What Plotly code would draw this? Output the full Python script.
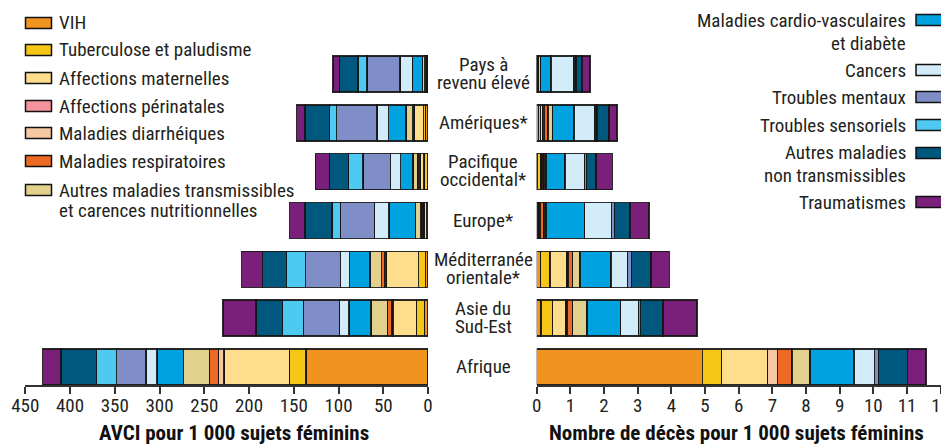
import plotly.graph_objects as go

# Régions, de bas en haut
regions = ["Afrique", "Asie du<br>Sud-Est", "Méditerranée<br>orientale*", "Europe*",
           "Pacifique<br>occidental*", "Amériques*", "Pays à<br>revenu élevé"]
ypos = list(range(len(regions)))

causes = ["VIH", "Tuberculose et paludisme", "Affections maternelles", "Affections périnatales",
          "Maladies diarrhéiques", "Maladies respiratoires",
          "Autres maladies transmissibles<br>et carences nutritionnelles",
          "Maladies cardio-vasculaires<br>et diabète", "Cancers", "Troubles mentaux",
          "Troubles sensoriels", "Autres maladies<br>non transmissibles", "Traumatismes"]
colors = ["#F0931F", "#F6C616", "#FEDD8C", "#F4939B", "#F5C8A2", "#EC6A24", "#E2D18C",
          "#00A2DF", "#D3ECF9", "#7F8EC7", "#4DC9F2", "#00587F", "#7A1F7A"]

# AVCI pour 1 000 sujets féminins (Afrique ... Pays à revenu élevé)
avci_vih = [136.6, 4.1, 2.6, 0.5, 0.5, 3.0, 0.5]
avci_tb = [18.3, 9.0, 7.8, 1.0, 4.0, 1.9, 0.5]
avci_maternelles = [72.9, 25.2, 36.5, 3.0, 4.5, 10.0, 0.5]
avci_perinatales = [0, 0, 0.5, 0.5, 0.5, 0.5, 0.3]
avci_diarrhee = [6.4, 1.9, 1.0, 0.5, 1.0, 0.7, 0.4]
avci_respiratoires = [10.0, 5.2, 3.5, 2.5, 1.5, 1.0, 1.5]
avci_autres_trans = [29.0, 18.5, 13.0, 6.0, 4.5, 7.4, 2.7]
avci_cardio = [29.7, 24.6, 22.8, 29.4, 14.1, 19.4, 11.1]
avci_cancers = [12.3, 10.5, 10.0, 16.4, 11.2, 13.0, 13.8]
avci_mentaux = [32.8, 40.2, 39.1, 38.0, 30.9, 45.1, 37.1]
avci_sensoriels = [22.7, 23.5, 21.2, 9.6, 16.4, 8.2, 10.1]
avci_autres_nt = [39.4, 29.3, 26.8, 30.1, 21.2, 27.1, 20.5]
avci_trauma = [20.6, 37.2, 23.4, 17.2, 15.6, 9.4, 7.4]

# Décès pour 1 000 sujets féminins
deces_vih = [4.92, 0.13, 0.12, 0.02, 0.01, 0.06, 0.005]
deces_tb = [0.57, 0.34, 0.28, 0.05, 0.12, 0.06, 0.01]
deces_maternelles = [1.37, 0.40, 0.48, 0.01, 0.02, 0.05, 0.005]
deces_perinatales = [0, 0, 0.02, 0, 0, 0.02, 0]
deces_diarrhee = [0.29, 0.03, 0.03, 0.02, 0.01, 0.04, 0.01]
deces_respiratoires = [0.44, 0.17, 0.14, 0.12, 0.06, 0.10, 0.03]
deces_autres_trans = [0.53, 0.43, 0.21, 0.05, 0.06, 0.14, 0.06]
deces_cardio = [1.31, 0.99, 0.93, 1.15, 0.56, 0.64, 0.31]
deces_cancers = [0.60, 0.54, 0.49, 0.80, 0.58, 0.62, 0.68]
deces_mentaux = [0.12, 0.05, 0.11, 0.09, 0.06, 0.06, 0.06]
deces_sensoriels = [0, 0, 0, 0, 0, 0, 0]
deces_autres_nt = [0.86, 0.67, 0.59, 0.46, 0.28, 0.36, 0.18]
deces_trauma = [0.56, 1.01, 0.54, 0.57, 0.49, 0.24, 0.23]

avci = [avci_vih, avci_tb, avci_maternelles, avci_perinatales, avci_diarrhee, avci_respiratoires,
        avci_autres_trans, avci_cardio, avci_cancers, avci_mentaux, avci_sensoriels,
        avci_autres_nt, avci_trauma]
deces = [deces_vih, deces_tb, deces_maternelles, deces_perinatales, deces_diarrhee,
         deces_respiratoires, deces_autres_trans, deces_cardio, deces_cancers, deces_mentaux,
         deces_sensoriels, deces_autres_nt, deces_trauma]

FONT = "Liberation Sans Narrow, Arial Narrow, Roboto Condensed, Liberation Sans, sans-serif"
TXT = "#231f20"
W, H = 941, 436  # la page ajoute une marge de 8 px


def px(x):
    return x / W


def py(y):
    return 1 - y / H


fig = go.Figure()
line = dict(color="rgba(20,20,20,0.9)", width=1.5)
for name, col, vals in zip(causes, colors, avci):
    fig.add_trace(go.Bar(y=ypos, x=vals, orientation="h", width=0.737, name=name,
                         marker=dict(color=col, line=line), xaxis="x", yaxis="y",
                         showlegend=False))
for name, col, vals in zip(causes, colors, deces):
    fig.add_trace(go.Bar(y=ypos, x=vals, orientation="h", width=0.737, name=name,
                         marker=dict(color=col, line=line), xaxis="x2", yaxis="y2",
                         showlegend=False))

axis_common = dict(showgrid=False, zeroline=False, showline=True, linecolor="#333",
                   linewidth=1.5, ticks="outside", ticklen=7, tickwidth=1.5, tickcolor="#333",
                   tickfont=dict(family=FONT, size=19, color=TXT), automargin=False,
                   ticklabeloverflow="allow", ticklabelstandoff=-5)
yaxis_common = dict(range=[-0.369, 6.5], domain=[py(377), py(41.6)], visible=False,
                    fixedrange=True)

fig.update_layout(
    width=W, height=H,
    margin=dict(l=0, r=0, t=0, b=0),
    barmode="stack",
    plot_bgcolor="white", paper_bgcolor="white",
    xaxis=dict(axis_common, domain=[px(17.3), px(420)], range=[450, 0], dtick=50, anchor="y"),
    xaxis2=dict(axis_common, domain=[px(528.7), px(932.7)], range=[0, 12], dtick=1,
                anchor="y2"),
    yaxis=dict(yaxis_common, anchor="x"),
    yaxis2=dict(yaxis_common, anchor="x2"),
)

# titres des axes
for xc, txt in [(226, "AVCI pour 1 000 sujets féminins"),
                (728, "Nombre de décès pour 1 000 sujets féminins")]:
    fig.add_annotation(x=px(xc), y=py(425), xref="paper", yref="paper", text=txt,
                       showarrow=False, xanchor="center", yanchor="middle",
                       font=dict(family=FONT, size=21, color="#111", weight="bold"))

# étiquettes des régions au centre
for y, lab in zip(ypos, regions):
    lines = lab.split("<br>")
    shifts = [0] if len(lines) == 1 else [10, -8]
    for t, s in zip(lines, shifts):
        fig.add_annotation(x=px(475), xref="paper", y=y, yref="y", yshift=s, text=t,
                           showarrow=False, font=dict(family=FONT, size=19, color=TXT),
                           xanchor="center", yanchor="middle")


# légendes dessinées à la main
def legend_item(i, ypx, gap, side):
    if side == "left":
        x0, x1, xt, anchor = 17.5, 43.5, 49, "left"
    else:
        x0, x1, xt, anchor = 908, 934, 900, "right"
    fig.add_shape(type="rect", xref="paper", yref="paper",
                  x0=px(x0), x1=px(x1), y0=py(ypx - 5.5), y1=py(ypx + 5.5),
                  fillcolor=colors[i], line=dict(color="#111", width=1.5))
    for k, t in enumerate(causes[i].split("<br>")):
        fig.add_annotation(x=px(xt), y=py(ypx + k * gap), xref="paper", yref="paper",
                           text=t, showarrow=False, xanchor=anchor, yanchor="middle",
                           font=dict(family=FONT, size=19, color=TXT))


for i, ypx in zip(range(7), [15, 42, 70, 98, 125, 153, 182]):
    legend_item(i, ypx, 20, "left")
for i, ypx, gap in [(7, 12, 24), (8, 62, 0), (9, 89, 0), (10, 117, 0), (11, 145, 22), (12, 194, 0)]:
    legend_item(i, ypx, gap, "right")

fig.write_html("out.html")
